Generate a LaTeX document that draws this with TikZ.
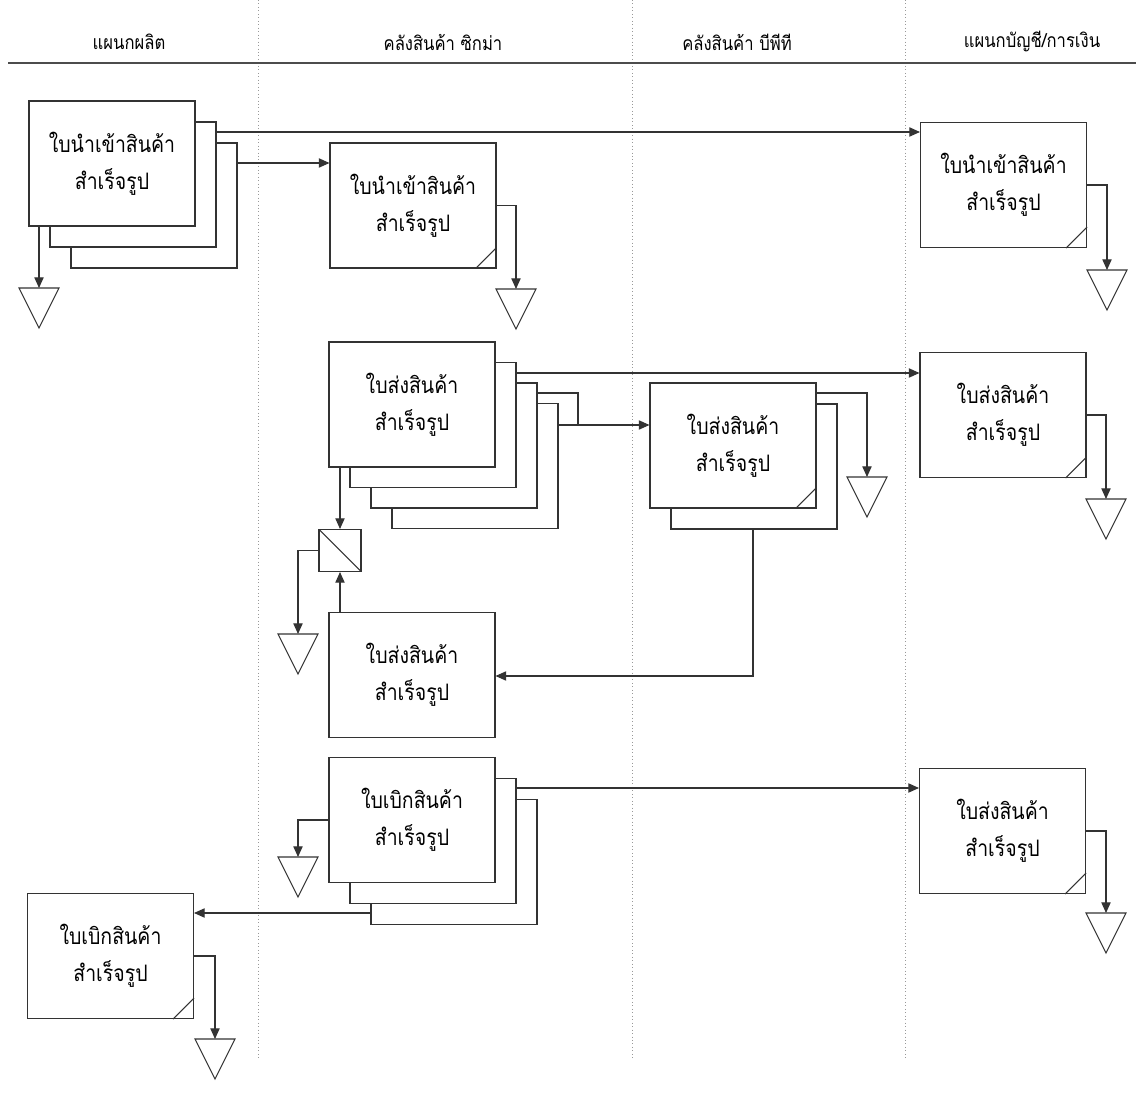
\documentclass[tikz,border=0pt]{standalone}
\usepackage{fontspec}
\newfontfamily\thaifont[Script=Thai,FakeStretch=0.86]{Loma}
\usetikzlibrary{arrows.meta,calc}
\newcommand\docfold[1]{\draw[ln] ($(#1.south east)+(0,-21)$) -- ($(#1.south east)+(-21,0)$);}
\begin{document}
\begin{tikzpicture}[x=0.75pt,y=-0.75pt,
  ln/.style={line width=0.8pt, draw=black!80},
  arr/.style={ln, -{Triangle[length=8pt,width=7pt]}},
  docbox/.style={draw=black!80, line width=0.8pt, fill=white, minimum width=124.5pt, minimum height=93.75pt, inner sep=0pt, align=center, font=\thaifont\fontsize{17}{27.5}\selectfont},
  lane/.style={draw=black!40, line width=0.6pt, dotted},
  hdr/.style={font=\thaifont\fontsize{14.5}{16}\selectfont, inner sep=0pt},
  sq/.style={draw=black!80, line width=0.8pt, fill=white, minimum size=31.5pt, inner sep=0pt,
    path picture={\draw[black!80,line width=0.8pt] (path picture bounding box.north west) -- (path picture bounding box.south east);}},
  tri/.pic={\draw[ln, fill=white] (-20,0) -- (20,0) -- (0,40) -- cycle;}
]
\useasboundingbox (0,0) rectangle (1136,1094);
\fill[white] (0,0) rectangle (1136,1094);
% lanes
\draw[lane] (258,0) -- (258,1060);
\draw[lane] (632,0) -- (632,1060);
\draw[lane] (905,0) -- (905,1060);
\draw[black!70, line width=0.8pt] (8,63) -- (1136,63);
\node[hdr] (h1) at (129,42) {แผนกผลิต};
\node[hdr] (h2) at (443,42) {คลังสินค้า ซิกม่า};
\node[hdr] (h3) at (737,42) {คลังสินค้า บีพีที};
\node[hdr] (h4) at (1032,42) {แผนกบัญชี/การเงิน};

% row 1
\node[docbox] (L1c) at (154,205.5) {};
\node[docbox] (L1b) at (133,184.5) {};
\node[docbox] (L1) at (112,163.5) {ใบนำเข้าสินค้า\\สำเร็จรูป};
\node[docbox] (M1) at (413,205.5) {ใบนำเข้าสินค้า\\สำเร็จรูป};
\docfold{M1}
\node[docbox] (R1) at (1003.5,185) {ใบนำเข้าสินค้า\\สำเร็จรูป};
\docfold{R1}
\coordinate (T1) at (39,288);  \pic at (T1) {tri};
\coordinate (T2) at (516,289); \pic at (T2) {tri};
\coordinate (T3) at (1107,270); \pic at (T3) {tri};
\draw[arr] (L1b.east |- 0,132) -- (R1.west |- 0,132);
\draw[arr] (L1c.east |- 0,163) -- (M1.west |- 0,163);
\draw[arr] (L1.south -| T1) -- (T1);
\draw[arr] (M1.east) -| (T2);
\draw[arr] (R1.east) -| (T3);

% row 2
\node[docbox] (Sd) at (475,466) {};
\node[docbox] (Sc) at (454,445.5) {};
\node[docbox] (Sb) at (433,425) {};
\node[docbox] (S) at (412,404.5) {ใบส่งสินค้า\\สำเร็จรูป};
\node[docbox] (Bb) at (754,466.5) {};
\node[docbox] (B) at (733,445.5) {ใบส่งสินค้า\\สำเร็จรูป};
\docfold{B}
\node[docbox] (R2) at (1003,415) {ใบส่งสินค้า\\สำเร็จรูป};
\docfold{R2}
\node[sq] (Q) at (340,550.5) {};
\node[docbox] (M2) at (412,675) {ใบส่งสินค้า\\สำเร็จรูป};
\coordinate (J) at (578,425);
\coordinate (T4) at (867,477); \pic at (T4) {tri};
\coordinate (T5) at (298,634); \pic at (T5) {tri};
\coordinate (T6) at (1106,499); \pic at (T6) {tri};
\draw[arr] (Sb.east |- 0,373) -- (R2.west |- 0,373);
\draw[ln] (Sc.east |- 0,393) -| (J);
\draw[arr] (Sd.east |- 0,425) -- (B.west |- 0,425);
\draw[arr] (B.east |- 0,393) -| (T4);
\draw[arr] (Bb.south -| 753,0) |- (M2.east |- 0,676);
\draw[arr] (S.south -| Q.north) -- (Q.north);
\draw[arr] (M2.north -| Q.south) -- (Q.south);
\draw[arr] (Q.west) -| (T5);
\draw[arr] (R2.east) -| (T6);

% row 3
\node[docbox] (Kc) at (454,862) {};
\node[docbox] (Kb) at (433,841) {};
\node[docbox] (K) at (412,820) {ใบเบิกสินค้า\\สำเร็จรูป};
\node[docbox] (R3) at (1002.5,831) {ใบส่งสินค้า\\สำเร็จรูป};
\docfold{R3}
\node[docbox] (L2) at (110.5,956) {ใบเบิกสินค้า\\สำเร็จรูป};
\docfold{L2}
\coordinate (T7) at (298,857); \pic at (T7) {tri};
\coordinate (T8) at (215,1039); \pic at (T8) {tri};
\coordinate (T9) at (1106,913); \pic at (T9) {tri};
\draw[arr] (Kb.east |- 0,788) -- (R3.west |- 0,788);
\draw[arr] (Kc.west |- 0,913) -- (L2.east |- 0,913);
\draw[arr] (K.west) -| (T7);
\draw[arr] (L2.east) -| (T8);
\draw[arr] (R3.east) -| (T9);
\end{tikzpicture}
\end{document}
